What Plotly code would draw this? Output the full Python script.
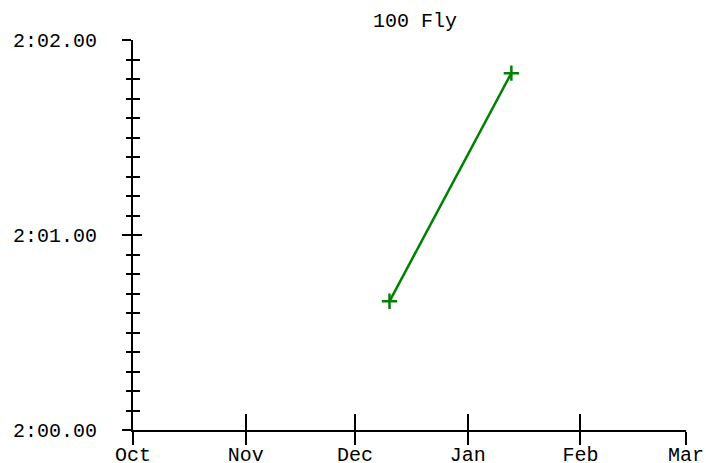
import plotly.graph_objects as go

# swim times for 100 Fly, in seconds
dates = ["2019-12-10 12:00", "2020-01-13"]
times = [120.66, 121.83]

y_ticks = [120, 121, 122]
y_labels = ["2:00.00", "2:01.00", "2:02.00"]

x_start = "2019-10-01"
x_end = "2020-03-01"

mono = dict(family="Courier New, Liberation Mono, monospace", size=20, color="black")

W, H = 706, 463

fig = go.Figure()
fig.add_trace(go.Scatter(
    x=dates, y=times, mode="lines+markers",
    line=dict(color="#008000", width=2.5),
    marker=dict(symbol="cross-thin", size=11, line=dict(color="#008000", width=2.5)),
    showlegend=False, hoverinfo="skip",
))
# empty trace so the overlay axes (inside half of each tick) get drawn
fig.add_trace(go.Scatter(x=[], y=[], xaxis="x2", yaxis="y2", showlegend=False))

axis_common = dict(showgrid=False, zeroline=False, linecolor="black", linewidth=2,
                   tickcolor="black", tickwidth=2, automargin=False)

fig.update_layout(
    width=W, height=H,
    margin=dict(l=133, r=20, t=40, b=33),
    plot_bgcolor="white", paper_bgcolor="white",
    font=mono,
    title=dict(text="100 Fly", x=415 / W, xref="container", xanchor="center",
               y=1 - 20 / H, yref="container", yanchor="middle", font=mono),
    xaxis=dict(type="date", range=[x_start, x_end], dtick="M1", tick0=x_start,
               tickformat="%b", ticks="outside", ticklen=13, showline=True,
               ticklabelstandoff=-8, tickfont=mono, **axis_common),
    xaxis2=dict(type="date", range=[x_start, x_end], dtick="M1", tick0=x_start,
                overlaying="x", anchor="y", ticks="inside", ticklen=16,
                showticklabels=False, showline=False, **axis_common),
    yaxis=dict(range=[120, 122], tickvals=y_ticks, ticktext=y_labels,
               ticks="outside", ticklen=9, showline=True, ticklabelstandoff=21,
               tickfont=mono,
               minor=dict(dtick=0.1, tick0=120, ticks="outside", ticklen=5,
                          tickwidth=2, tickcolor="black"),
               **axis_common),
    yaxis2=dict(range=[120, 122], tickvals=y_ticks, overlaying="y", anchor="x",
                ticks="inside", ticklen=9, showticklabels=False, showline=False,
                minor=dict(dtick=0.1, tick0=120, ticks="inside", ticklen=7,
                           tickwidth=2, tickcolor="black"),
                **axis_common),
)

# drop the page's default body margin so the figure fills the window exactly
fig.write_html("out.html", config={"displayModeBar": False},
               post_script="document.body.style.margin='0';"
                           "document.body.style.overflow='hidden';")
